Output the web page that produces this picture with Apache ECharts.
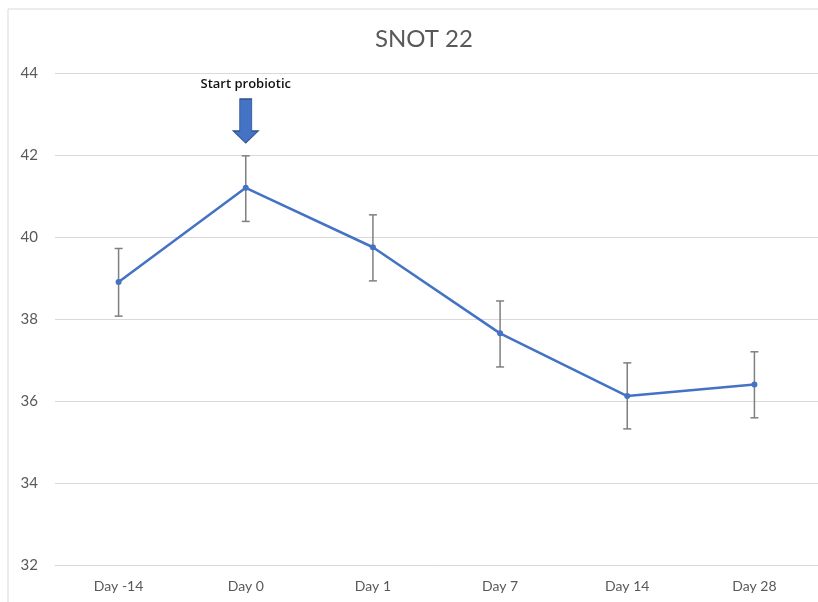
<!DOCTYPE html>
<html><head><meta charset="utf-8">
<script src="https://cdn.jsdelivr.net/npm/echarts@6/dist/echarts.min.js"></script>
<style>html,body{margin:0;padding:0;background:#fff}#c{width:818px;height:602px}</style>
</head><body><div id="c"></div>
<script>
const categories = ['Day -14','Day 0','Day 1','Day 7','Day 14','Day 28'];
const means = [38.9, 41.2, 39.75, 37.65, 36.12, 36.4];
const errLow = [38.07, 40.38, 38.93, 36.83, 35.32, 35.59];
const errHigh = [39.72, 41.98, 40.54, 38.44, 36.93, 37.2];
const yTicks = [32, 34, 36, 38, 40, 42, 44];
const annotationText = 'Start probiotic';
const annotationCategory = 'Day 0';

const font = 'Lato, "Open Sans", sans-serif';
const chart = echarts.init(document.getElementById('c'));
chart.setOption({
  animation: false,
  backgroundColor: '#fff',
  title: { text: 'SNOT 22', left: 370, top: 22, textStyle: { fontFamily: font, fontSize: 24, fontWeight: 'normal', color: '#595959' } },
  graphic: [{ type: 'rect', shape: { x: 8, y: 9, width: 830, height: 620 }, style: { fill: 'none', stroke: '#d9d9d9', lineWidth: 1 }, silent: true }],
  grid: { left: 55, right: 0, top: 73, bottom: 37 },
  xAxis: {
    type: 'category', data: categories, boundaryGap: true,
    axisLine: { lineStyle: { color: '#d9d9d9', width: 1 } },
    axisTick: { show: false },
    axisLabel: { fontFamily: font, fontSize: 14, color: '#595959', margin: 14 }
  },
  yAxis: {
    type: 'value', min: yTicks[0], max: yTicks[yTicks.length - 1], interval: 2,
    axisLine: { show: false }, axisTick: { show: false },
    splitLine: { lineStyle: { color: '#d9d9d9', width: 1 } },
    axisLabel: { fontFamily: font, fontSize: 15, color: '#595959', margin: 17 }
  },
  series: [
    {
      type: 'custom', z: 1,
      data: categories.map((c, i) => [i, errLow[i], errHigh[i]]),
      renderItem: function (params, api) {
        const lo = api.coord([api.value(0), api.value(1)]);
        const hi = api.coord([api.value(0), api.value(2)]);
        const w = 4;
        const st = { stroke: '#7f7f7f', lineWidth: 1.5 };
        return { type: 'group', children: [
          { type: 'line', shape: { x1: hi[0], y1: hi[1], x2: lo[0], y2: lo[1] }, style: st },
          { type: 'line', shape: { x1: hi[0] - w, y1: hi[1], x2: hi[0] + w, y2: hi[1] }, style: st },
          { type: 'line', shape: { x1: lo[0] - w, y1: lo[1], x2: lo[0] + w, y2: lo[1] }, style: st }
        ] };
      }
    },
    {
      type: 'line', z: 2, data: means,
      lineStyle: { color: '#4472C4', width: 2.5 },
      itemStyle: { color: '#4472C4' },
      symbol: 'circle', symbolSize: 6,
      markPoint: {
        silent: true,
        data: [
          { coord: [annotationCategory, 42.83], symbol: 'path://M6.5,0 L18.5,0 L18.5,32 L25,32 L12.5,44 L0,32 L6.5,32 Z', symbolSize: [25, 44],
            itemStyle: { color: '#4472C4', borderColor: '#2f528f', borderWidth: 1 }, label: { show: false } },
          { coord: [annotationCategory, 43.73], symbol: 'rect', symbolSize: 1, itemStyle: { color: 'transparent' },
            label: { show: true, formatter: annotationText, position: 'inside', fontFamily: '"Open Sans", sans-serif', fontWeight: 600, fontSize: 13, color: '#111' } }
        ]
      }
    }
  ]
});
</script></body></html>
